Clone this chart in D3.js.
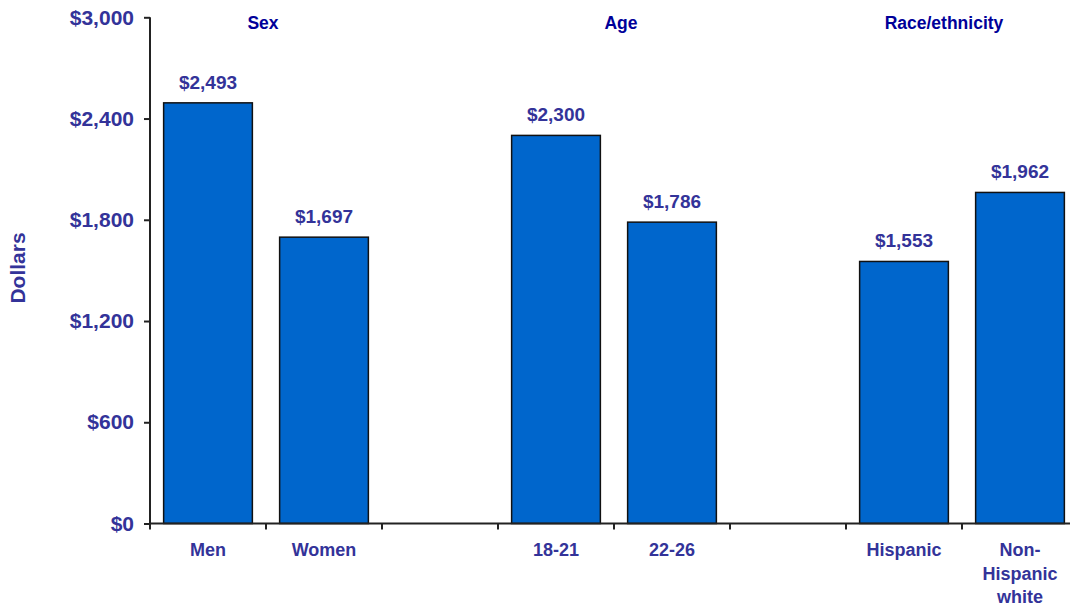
<!DOCTYPE html>
<html>
<head>
<meta charset="utf-8">
<script src="https://cdn.jsdelivr.net/npm/d3@7"></script>
<style>
  html, body { margin: 0; padding: 0; background: #fff; }
  svg { display: block; font-family: "Liberation Sans", Arial, sans-serif; font-weight: bold; }
</style>
</head>
<body>
<svg id="chart" width="1070" height="607"></svg>
<script>
// ---- data ----
const categories = ["Men", "Women", "gap1", "18-21", "22-26", "gap2", "Hispanic", "Non-Hispanic white"];
const categoryLabels = [["Men"], ["Women"], [], ["18-21"], ["22-26"], [], ["Hispanic"], ["Non-", "Hispanic", "white"]];
const values = [2493, 1697, null, 2300, 1786, null, 1553, 1962];
const yTicks = [0, 600, 1200, 1800, 2400, 3000];
const groupHeaders = ["Sex", "Age", "Race/ethnicity"];
const yTitle = "Dollars";

// ---- layout ----
const svg = d3.select("#chart");
const mLeft = 150, mRight = 1078, mTop = 17.3, mBottom = 523.5;
const labelColor = "#333399";
const headerColor = "#000099";

const x = d3.scaleBand().domain(categories).range([mLeft, mRight])
  .paddingInner(0.235).paddingOuter(0.1175);
const y = d3.scaleLinear().domain([0, 3000]).range([mBottom, mTop]);
const fmt = v => "$" + d3.format(",")(v);

// y axis
const yAxis = svg.append("g").attr("transform", `translate(${mLeft},0)`)
  .call(d3.axisLeft(y).tickValues(yTicks).tickFormat(fmt).tickSize(6).tickPadding(10));
yAxis.select(".domain").attr("stroke", "#222").attr("stroke-width", 2).attr("d", `M0,${mBottom}V${mTop}`);
yAxis.selectAll(".tick line").attr("stroke", "#222").attr("stroke-width", 2);
yAxis.selectAll(".tick text").attr("fill", labelColor).style("font-size", "21px")
  .style("font-family", "'Liberation Sans', Arial, sans-serif").style("font-weight", "bold");

// bars
const data = categories.map((c, i) => ({ c, v: values[i] })).filter(d => d.v !== null);
svg.append("g").selectAll("rect").data(data).join("rect")
  .attr("x", d => x(d.c))
  .attr("y", d => y(d.v))
  .attr("width", x.bandwidth())
  .attr("height", d => y(0) - y(d.v))
  .attr("fill", "#0066CC")
  .attr("stroke", "#111")
  .attr("stroke-width", 1.5);

// value labels
svg.append("g").selectAll("text").data(data).join("text")
  .attr("x", d => x(d.c) + x.bandwidth() / 2)
  .attr("y", d => y(d.v) - 14)
  .attr("text-anchor", "middle")
  .attr("fill", labelColor)
  .style("font-size", "19px")
  .text(d => fmt(d.v));

// x axis line and ticks at band boundaries
svg.append("line").attr("x1", mLeft).attr("x2", 1070).attr("y1", mBottom).attr("y2", mBottom)
  .attr("stroke", "#222").attr("stroke-width", 2);
const step = x.step();
const boundaries = d3.range(categories.length).map(i => mLeft + i * step);
svg.append("g").selectAll("line").data(boundaries).join("line")
  .attr("x1", d => d).attr("x2", d => d)
  .attr("y1", mBottom).attr("y2", mBottom + 6)
  .attr("stroke", "#222").attr("stroke-width", 2);

// x category labels
const xl = svg.append("g").selectAll("text").data(categories.map((c, i) => ({ c, lines: categoryLabels[i] })))
  .join("text")
  .attr("text-anchor", "middle")
  .attr("fill", labelColor)
  .style("font-size", "18px");
xl.each(function(d) {
  const t = d3.select(this);
  d.lines.forEach((ln, j) => {
    t.append("tspan").attr("x", x(d.c) + x.bandwidth() / 2).attr("y", 556 + j * 23.5).text(ln);
  });
});

// group headers (centered over pairs of categories)
const headerPairs = [["Men", "Women", -3], ["18-21", "22-26", 7], ["Hispanic", "Non-Hispanic white", -18]];
svg.append("g").selectAll("text").data(groupHeaders).join("text")
  .attr("x", (d, i) => {
    const [a, b, off] = headerPairs[i];
    return (x(a) + x(b) + x.bandwidth()) / 2 + off;
  })
  .attr("y", 29)
  .attr("text-anchor", "middle")
  .attr("fill", headerColor)
  .style("font-size", "17.5px")
  .text(d => d);

// y axis title
svg.append("text")
  .attr("transform", "translate(25,268) rotate(-90)")
  .attr("text-anchor", "middle")
  .attr("fill", labelColor)
  .style("font-size", "21px")
  .text(yTitle);
</script>
</body>
</html>
